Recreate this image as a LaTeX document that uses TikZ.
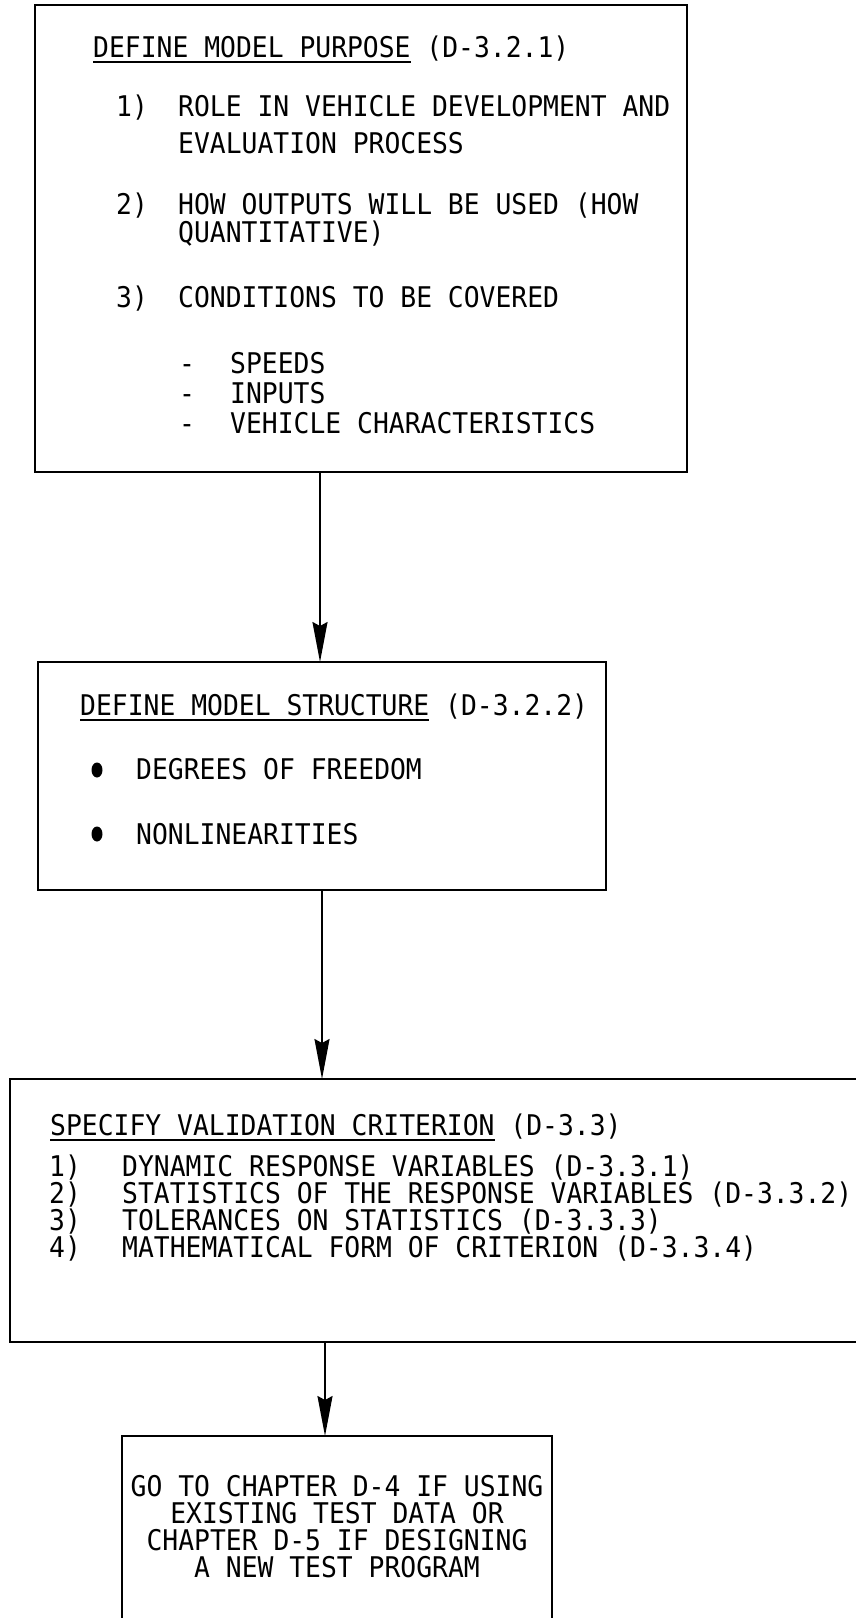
\documentclass[tikz,border=0pt]{standalone}
\usepackage{fontspec}
\usetikzlibrary{arrows.meta}
% condensed typewriter-like face: tall capitals on a fixed pitch
\newfontfamily\typefont[FakeStretch=0.925]{DejaVu Sans Mono}
% underlined heading text: a rule the width of the text, just below the baseline
\newcommand{\ultext}[1]{\setbox0=\hbox{#1}\rlap{\rule[-6pt]{\wd0}{1.9pt}}\box0\relax}
\begin{document}
\begin{tikzpicture}[x=1pt,y=-1pt,
  box/.style={draw, line width=2.2pt, inner sep=0pt, outer sep=0pt, anchor=north west},
  txt/.style={anchor=base west, inner sep=0pt, font=\typefont\fontsize{28.5}{30}\selectfont},
  ctxt/.style={txt, anchor=base},
  dot/.style={x radius=5.5, y radius=7.5},
  flow/.style={line width=1.9pt, -{Stealth[length=40pt,width=15pt,inset=4pt]}}]
\useasboundingbox (0,0) rectangle (855,1618);

% ---- boxes ----
\node[box, minimum width=652pt, minimum height=467pt] (b1) at (35,5) {};
\node[box, minimum width=568pt, minimum height=228pt] (b2) at (38,662) {};
\node[box, minimum width=852pt, minimum height=263pt] (b3) at (10,1079) {};
\node[box, minimum width=430pt, minimum height=200pt] (b4) at (122,1436) {};

% ---- box 1: model purpose ----
\node[txt] (t1) at (93,57) {\ultext{DEFINE MODEL PURPOSE} (D-3.2.1)};
\node[txt] (n11) at (116,116) {1)};
\node[txt] (i11a) at (178,116) {ROLE IN VEHICLE DEVELOPMENT AND};
\node[txt] (i11b) at (178,153) {EVALUATION PROCESS};
\node[txt] (n12) at (116,214) {2)};
\node[txt] (i12a) at (178,214) {HOW OUTPUTS WILL BE USED (HOW};
\node[txt] (i12b) at (178,242) {QUANTITATIVE)};
\node[txt] (n13) at (116,307) {3)};
\node[txt] (i13) at (178,307) {CONDITIONS TO BE COVERED};
\node[txt] (d1) at (179,373) {-};
\node[txt] (s1) at (230,373) {SPEEDS};
\node[txt] (d2) at (179,403) {-};
\node[txt] (s2) at (230,403) {INPUTS};
\node[txt] (d3) at (179,433) {-};
\node[txt] (s3) at (230,433) {VEHICLE CHARACTERISTICS};

% ---- box 2: model structure ----
\node[txt] (t2) at (80,715) {\ultext{DEFINE MODEL STRUCTURE} (D-3.2.2)};
\fill (97,770) ellipse [dot];
\fill (97,834) ellipse [dot];
\node[txt] (i21) at (136,779) {DEGREES OF FREEDOM};
\node[txt] (i22) at (136,844) {NONLINEARITIES};

% ---- box 3: validation criterion ----
\node[txt] (t3) at (50,1135) {\ultext{SPECIFY VALIDATION CRITERION} (D-3.3)};
\node[txt] (n31) at (49,1176) {1)};
\node[txt] (i31) at (122,1176) {DYNAMIC RESPONSE VARIABLES (D-3.3.1)};
\node[txt] (n32) at (49,1203) {2)};
\node[txt] (i32) at (122,1203) {STATISTICS OF THE RESPONSE VARIABLES (D-3.3.2)};
\node[txt] (n33) at (49,1230) {3)};
\node[txt] (i33) at (122,1230) {TOLERANCES ON STATISTICS (D-3.3.3)};
\node[txt] (n34) at (49,1257) {4)};
\node[txt] (i34) at (122,1257) {MATHEMATICAL FORM OF CRITERION (D-3.3.4)};

% ---- box 4: next chapter ----
\node[ctxt] (g1) at (337,1496) {GO TO CHAPTER D-4 IF USING};
\node[ctxt] (g2) at (337,1523) {EXISTING TEST DATA OR};
\node[ctxt] (g3) at (337,1550) {CHAPTER D-5 IF DESIGNING};
\node[ctxt] (g4) at (337,1577) {A NEW TEST PROGRAM};

% ---- connectors ----
\coordinate (ax1) at (320,0);
\coordinate (ax2) at (322,0);
\coordinate (ax3) at (325,0);
\draw[flow] (ax1 |- b1.south) -- (ax1 |- b2.north);
\draw[flow] (ax2 |- b2.south) -- (ax2 |- b3.north);
\draw[flow] (ax3 |- b3.south) -- (ax3 |- b4.north);
\end{tikzpicture}
\end{document}
